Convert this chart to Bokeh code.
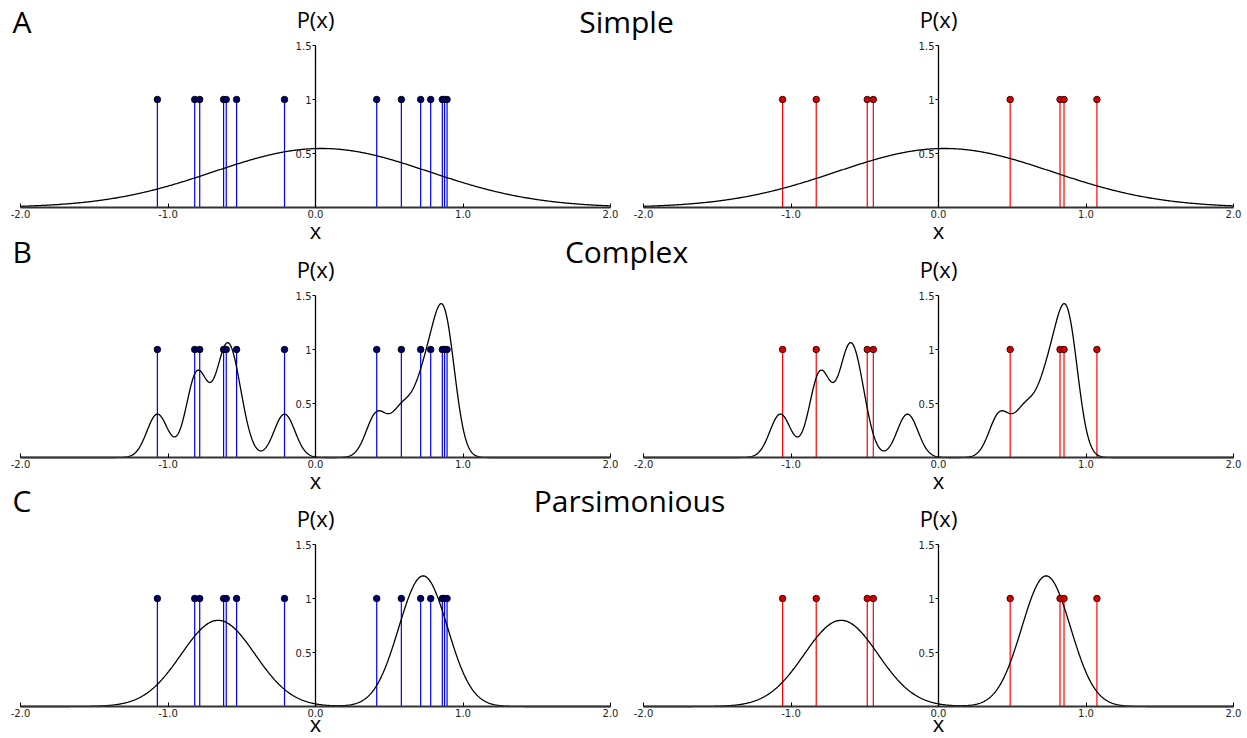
import numpy as np
from bokeh.plotting import figure
from bokeh.models import (Range1d, Label, FixedTicker, NumeralTickFormatter,
                          ColumnDataSource, LinearAxis)
from bokeh.embed import file_html
from bokeh.resources import INLINE

# ---------------- data ----------------
panel_letters = ["A", "B", "C"]
panel_titles = ["Simple", "Complex", "Parsimonious"]

# training samples (blue, left column) and test samples (red, right column)
train_x = [-1.072, -0.819, -0.785, -0.623, -0.605, -0.535, -0.210,
           0.415, 0.582, 0.713, 0.781, 0.860, 0.875, 0.892]
train_p = [1, 1, 1, 1, 1, 1, 1, 1, 1, 1, 1, 1, 1, 1]
test_x = [-1.057, -0.829, -0.483, -0.442, 0.486, 0.824, 0.851, 1.074]
test_p = [1, 1, 1, 1, 1, 1, 1, 1]

x_ticks = [-2, -1, 0, 1, 2]
y_ticks = [0.5, 1, 1.5]
y_tick_labels = ["0.5", "1", "1.5"]

# model parameters
simple_mu, simple_sd = 0.04, 0.73            # A: one normal
complex_bw = 0.071                            # B: kernel density on the samples
pars_mu = [-0.66, 0.73]                       # C: two-component mixture
pars_sd = [0.25, 0.165]
pars_w = [0.5, 0.5]

# ---------------- model curves ----------------
xs = np.linspace(-2, 2, 801)


def normal(x, m, s):
    return np.exp(-0.5 * ((x - m) / s) ** 2) / (s * np.sqrt(2 * np.pi))


curve_simple = normal(xs, simple_mu, simple_sd)
curve_complex = np.mean([normal(xs, xi, complex_bw) for xi in train_x], axis=0)
curve_pars = sum(w * normal(xs, m, s) for w, m, s in zip(pars_w, pars_mu, pars_sd))
curves = [curve_simple, curve_complex, curve_pars]

# ---------------- layout (pixels) ----------------
W, H = 1247, 738
PX_X = 147.5                 # pixels per x unit
PX_Y = 108.0                 # pixels per P unit
col_left = [20, 643]         # pixel of x = -2 in each column
row_axis = [207, 457, 706]   # pixel of P = 0 in each row
xlabel_standoff = [-6, -6, -12]
title_base = [33, 263, 512]
px_base = [27, 277, 526]
title_cx = [626, 626, 629]
px_cx = [315, 938]

TITLE_FONT = "Open Sans"
TICK_FONT = "DejaVu Sans"
MID_OFF = 0.388              # baseline -> middle of text box, in em

p = figure(width=W, height=H, x_range=Range1d(0, W), y_range=Range1d(H, 0),
           x_axis_location=None, y_axis_location=None, toolbar_location=None,
           output_backend="svg", min_border=0)
p.outline_line_color = None
p.xgrid.visible = False
p.ygrid.visible = False
p.background_fill_color = "white"
p.border_fill_color = "white"

xnames = ["xl", "xr"]
ynames = ["yA", "yB", "yC"]
p.extra_x_ranges = {
    xnames[j]: Range1d(-2 - col_left[j] / PX_X, -2 + (W - col_left[j]) / PX_X)
    for j in range(2)
}
p.extra_y_ranges = {
    ynames[i]: Range1d(-(H - row_axis[i]) / PX_Y, row_axis[i] / PX_Y)
    for i in range(3)
}


def add_label(x, base, text, size, align):
    p.add_layout(Label(x=x, y=base - MID_OFF * size, text=text,
                       text_font=TITLE_FONT, text_font_size=f"{size}px",
                       text_align=align, text_baseline="middle", text_color="black"))


for i in range(3):
    add_label(12, title_base[i], panel_letters[i], 30, "left")
    add_label(title_cx[i], title_base[i], panel_titles[i], 30, "center")
    for j in range(2):
        add_label(px_cx[j], px_base[i], "P(x)", 22, "center")

for i in range(3):
    for j in range(2):
        xn, yn = xnames[j], ynames[i]
        if j == 0:
            sx, sp, stem_col, dot_fill, dot_line = train_x, train_p, "#0000ff", "#00006a", "black"
        else:
            sx, sp, stem_col, dot_fill, dot_line = test_x, test_p, "#ff0000", "#d40000", "#2a0000"
        src = ColumnDataSource(dict(x=sx, p=sp, base=[0] * len(sx)))
        p.segment(x0="x", y0="base", x1="x", y1="p", source=src,
                  line_color=stem_col, line_width=1.2, x_range_name=xn, y_range_name=yn)
        p.line(xs, curves[i], line_color="black", line_width=1.3,
               x_range_name=xn, y_range_name=yn)
        p.scatter("x", "p", source=src, marker="circle", size=6.5,
                  fill_color=dot_fill, line_color=dot_line, line_width=0.9,
                  x_range_name=xn, y_range_name=yn)

        xa = LinearAxis(x_range_name=xn, y_range_name=yn, fixed_location=0,
                        bounds=(-2, 2),
                        ticker=FixedTicker(ticks=x_ticks, minor_ticks=[]),
                        formatter=NumeralTickFormatter(format="0.0"))
        xa.axis_line_width = 2
        xa.axis_line_color = "#333333"
        xa.major_tick_in = 4
        xa.major_tick_out = 0
        xa.major_tick_line_color = "black"
        xa.minor_tick_line_color = None
        xa.major_label_text_font = TICK_FONT
        xa.major_label_text_font_size = "10px"
        xa.major_label_text_color = "#222222"
        xa.major_label_standoff = 2
        xa.axis_label = "x"
        xa.axis_label_text_font = TITLE_FONT
        xa.axis_label_text_font_size = "22px"
        xa.axis_label_text_font_style = "normal"
        xa.axis_label_text_color = "black"
        xa.axis_label_standoff = xlabel_standoff[i]
        p.add_layout(xa, "below")

        ya = LinearAxis(x_range_name=xn, y_range_name=yn, fixed_location=0,
                        bounds=(0, 1.5),
                        ticker=FixedTicker(ticks=y_ticks, minor_ticks=[]))
        ya.major_label_overrides = dict(zip(y_ticks, y_tick_labels))
        ya.axis_line_width = 1.3
        ya.axis_line_color = "black"
        ya.major_tick_in = 0
        ya.major_tick_out = 3
        ya.major_tick_line_color = "black"
        ya.minor_tick_line_color = None
        ya.major_label_text_font = TICK_FONT
        ya.major_label_text_font_size = "10px"
        ya.major_label_text_color = "#222222"
        ya.major_label_standoff = 1
        p.add_layout(ya, "left")

open("out.html", "w").write(file_html(p, INLINE))
